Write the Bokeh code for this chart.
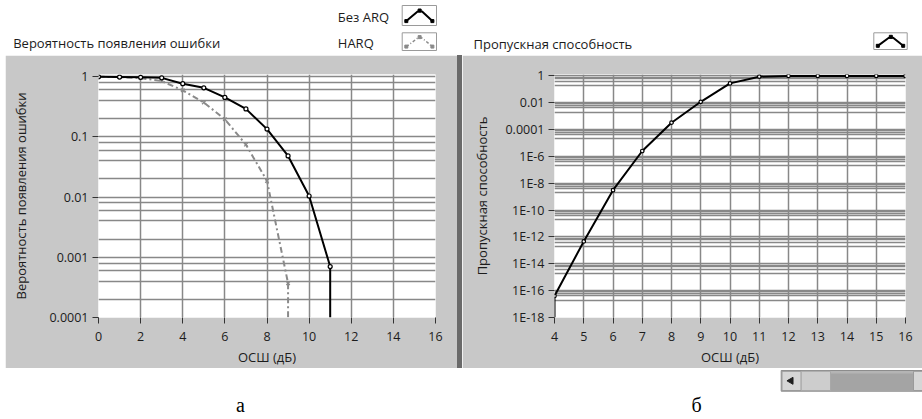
from bokeh.plotting import figure
from bokeh.layouts import column, row
from bokeh.models import Range1d, FixedTicker, CustomJSTickFormatter, Spacer
from bokeh.core.properties import value
from bokeh.embed import file_html
from bokeh.resources import INLINE

# ---------------- data ----------------
snr_noarq = [0, 1, 2, 3, 4, 5, 6, 7, 8, 9, 10, 11]
per_noarq = [0.99, 0.98, 0.97, 0.95, 0.76, 0.65, 0.45, 0.29, 0.134, 0.048, 0.0104, 0.0007]

snr_harq = [0, 1, 2, 3, 4, 5, 6, 7, 8, 9]
per_harq = [0.99, 0.98, 0.94, 0.84, 0.59, 0.37, 0.195, 0.074, 0.0185, 0.00037]

snr_thr = [4, 5, 6, 7, 8, 9, 10, 11, 12, 13, 14, 15, 16]
thr = [4e-17, 4.6e-13, 3e-9, 2.5e-6, 3.2e-4, 0.0115, 0.27, 0.85, 0.97, 0.97, 0.97, 0.97, 0.97]

left_title = "Вероятность появления ошибки"
right_title = "Пропускная способность"
x_label = "ОСШ (дБ)"
legend_labels = ["Без ARQ", "HARQ"]
captions = ["а", "б"]

left_xticks = [0, 2, 4, 6, 8, 10, 12, 14, 16]
right_xticks = [4, 5, 6, 7, 8, 9, 10, 11, 12, 13, 14, 15, 16]
left_yticks = [1e-4, 1e-3, 1e-2, 1e-1, 1]
left_ytick_labels = ["0.0001", "0.001", "0.01", "0.1", "1"]
right_yticks = [1e-18, 1e-16, 1e-14, 1e-12, 1e-10, 1e-8, 1e-6, 1e-4, 1e-2, 1]
right_ytick_labels = ["1E-18", "1E-16", "1E-14", "1E-12", "1E-10", "1E-8", "1E-6", "0.0001", "0.01", "1"]
minor_factors = [0.8, 0.6, 0.4, 0.2]

# ---------------- style ----------------
FONT = "Open Sans"
SERIF = "Liberation Serif"
PANEL = "#c8c8c8"
GRID = "#888888"
TXT = "#1c1c1c"

W_PAD, W_LEFT, W_SEP, W_RIGHT = 5, 452, 5, 460
H_TOP, H_MID, H_BOT = 55, 313, 51
TOTAL_W = W_PAD + W_LEFT + W_SEP + W_RIGHT


def fmt(vals, labels):
    return CustomJSTickFormatter(args=dict(vals=vals, labels=labels), code="""
        let best = 0, bd = 1e9;
        for (let i = 0; i < vals.length; i++) {
            const d = Math.abs(Math.log10(vals[i]) - Math.log10(tick));
            if (d < bd) { bd = d; best = i; }
        }
        return labels[best];
    """)


def panel(width, xr, yr, mbl, mbr, mbt, xticks, yticks, ylabels, ylabel, ylabel_standoff):
    p = figure(width=width, height=H_MID, x_range=xr, y_range=yr, y_axis_type="log",
               output_backend="svg", toolbar_location=None,
               min_border_left=mbl, min_border_right=mbr, min_border_top=mbt,
               min_border_bottom=48, border_fill_color=PANEL,
               background_fill_color="white", outline_line_color=None)
    p.xaxis.ticker = FixedTicker(ticks=xticks)
    p.yaxis.ticker = FixedTicker(ticks=yticks)
    p.yaxis.formatter = fmt(yticks, ylabels)
    minors = [m * f for m in yticks for f in minor_factors if m * f > yr.start]
    p.xgrid.ticker = FixedTicker(ticks=xticks)
    p.ygrid.ticker = FixedTicker(ticks=yticks, minor_ticks=minors)
    p.grid.grid_line_color = GRID
    p.grid.grid_line_width = 1.5
    p.ygrid.minor_grid_line_color = GRID
    p.ygrid.minor_grid_line_width = 1.5
    for ax in (p.xaxis, p.yaxis):
        ax.axis_line_color = None
        ax.major_tick_in = 0
        ax.major_tick_out = 6
        ax.major_tick_line_color = "#333333"
        ax.minor_tick_line_color = None
        ax.major_label_text_font = FONT
        ax.major_label_text_font_size = "12.5px"
        ax.major_label_text_color = TXT
        ax.axis_label_text_font = FONT
        ax.axis_label_text_font_size = "13px"
        ax.axis_label_text_font_style = "normal"
        ax.axis_label_text_color = TXT
    p.xaxis.axis_label = x_label
    p.xaxis.major_label_standoff = 8
    p.xaxis.axis_label_standoff = 4
    p.yaxis.axis_label = ylabel
    p.yaxis.major_label_standoff = 4
    p.yaxis.axis_label_standoff = ylabel_standoff
    return p


# ---------------- left panel ----------------
pl = panel(W_LEFT, Range1d(0, 16), Range1d(1e-4, 1.08), 93, 22, 19,
           left_xticks, left_yticks, left_ytick_labels, left_title, 16)
pl.line(snr_harq, per_harq, line_color="#8a8a8a", line_width=2, line_dash="6 3 2 3")
pl.segment(x0=[snr_harq[-1]], y0=[per_harq[-1]], x1=[snr_harq[-1]], y1=[pl.y_range.start],
           line_color="#8a8a8a", line_width=2, line_dash="6 3 2 3")
pl.scatter(snr_harq, per_harq, marker="x", size=5, line_color="#8a8a8a", line_width=1.3)
pl.line(snr_noarq, per_noarq, line_color="black", line_width=2)
pl.segment(x0=[snr_noarq[-1]], y0=[per_noarq[-1]], x1=[snr_noarq[-1]], y1=[pl.y_range.start],
           line_color="black", line_width=2)
pl.scatter(snr_noarq, per_noarq, marker="circle", size=4, line_color="black",
           fill_color="white", line_width=1.2)

# ---------------- right panel ----------------
pr = panel(W_RIGHT, Range1d(4, 16), Range1d(1e-18, 1.24), 92, 17, 12,
           right_xticks, right_yticks, right_ytick_labels, right_title, 11)
pr.line(snr_thr, thr, line_color="black", line_width=2)
pr.segment(x0=[snr_thr[0]], y0=[thr[0]], x1=[snr_thr[0]], y1=[pr.y_range.start],
           line_color="black", line_width=2)
pr.scatter(snr_thr, thr, marker="circle", size=3.5, line_color="black",
           fill_color="white", line_width=1.2)

pad = Spacer(width=W_PAD, height=H_MID)
sep = Spacer(width=W_SEP, height=H_MID, styles={"background-color": "#6a6a6a"})


# ---------------- strips ----------------
def strip(h):
    s = figure(width=TOTAL_W, height=h, x_range=Range1d(0, TOTAL_W), y_range=Range1d(h, 0),
               output_backend="svg", toolbar_location=None, min_border=0,
               border_fill_color="white", background_fill_color="white",
               outline_line_color=None)
    s.axis.visible = False
    s.grid.visible = False
    return s


top = strip(H_TOP)
top.text(x=[12.7, 473], y=[42.7, 43], text=[left_title, right_title], text_font=value(FONT),
         text_font_size="13px", text_baseline="middle", text_align="left", text_color=TXT)
top.text(x=[337.3, 337.3], y=[16.7, 42.7], text=legend_labels, text_font=value(FONT),
         text_font_size="13px", text_baseline="middle", text_align="left", text_color=TXT)

# legend swatch boxes: (left, top, right, bottom)
boxes = [(401.7, 5, 436, 25), (401.7, 32.3, 436, 50), (873.3, 32.3, 906.7, 49)]
top.quad(left=[b[0] for b in boxes], right=[b[2] for b in boxes],
         top=[b[1] for b in boxes], bottom=[b[3] for b in boxes],
         fill_color="white", line_color="#9a9a9a", line_width=1)
styles_sw = [("black", None), ("#8a8a8a", "3 2 1 2"), ("black", None)]
for (l, t, r, b), (col, dash) in zip(boxes, styles_sw):
    w, h = r - l, b - t
    xs = [l + 0.12 * w, l + 0.45 * w, l + 0.58 * w, l + 0.88 * w]
    ys = [t + 0.78 * h, t + 0.3 * h, t + 0.3 * h, t + 0.78 * h]
    if dash:
        top.line(xs, ys, line_color=col, line_width=1.5, line_dash=dash)
    else:
        top.line(xs, ys, line_color=col, line_width=2)
    top.scatter([xs[0], xs[1] + 2, xs[3]], [ys[0], ys[1] - 1, ys[3]], marker="square",
                size=3, color=col)

bot = strip(H_BOT)
bot.text(x=[240, 696], y=[36, 36], text=captions, text_font=value(SERIF),
         text_font_size="20px", text_baseline="middle", text_align="center", text_color="black")
# scrollbar
bot.quad(left=[780.7], right=[922], top=[2], bottom=[22.7], fill_color="#b4b4b4",
         line_color="#8c8c8c", line_width=1)
bot.quad(left=[830], right=[913], top=[5], bottom=[22], fill_color="#a4a4a4", line_color=None)
bot.quad(left=[781.5], right=[800.7], top=[2.8], bottom=[22], fill_color="#d6d6d6",
         line_color="#9a9a9a", line_width=1)
bot.quad(left=[800.7], right=[830], top=[2.8], bottom=[22], fill_color="#cdcdcd",
         line_color="#a8a8a8", line_width=1)
bot.quad(left=[913], right=[922], top=[2.8], bottom=[22], fill_color="#d6d6d6",
         line_color="#9a9a9a", line_width=1)
bot.scatter([790.5], [12.3], marker="triangle", angle=1.5708, size=7, color="#202020")

layout = column(top, row(pad, pl, sep, pr), bot)

open("out.html", "w").write(file_html(layout, INLINE))
